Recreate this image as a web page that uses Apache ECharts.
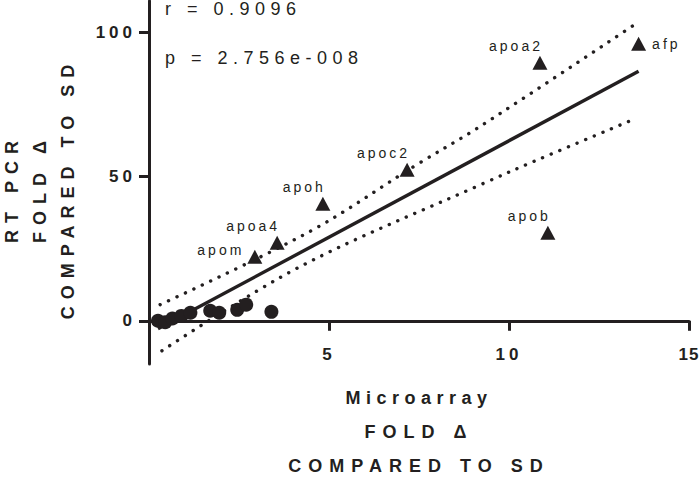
<!DOCTYPE html>
<html><head><meta charset="utf-8">
<script src="https://cdn.jsdelivr.net/npm/echarts@6/dist/echarts.min.js"></script>
<style>html,body{margin:0;padding:0;background:#fff}#c{width:700px;height:477px}</style>
</head><body><div id="c"></div>
<script>
// ---- data ----
const geneNames = ['afp', 'apoa2', 'apob', 'apoc2', 'apoh', 'apoa4', 'apom'];
const geneMicro = [13.6, 10.86, 11.08, 7.17, 4.83, 3.56, 2.94];
const geneRT    = [96.2, 89.6, 30.6, 52.4, 40.6, 27.1, 22.2];

const otherMicro = [0.25, 0.45, 0.65, 0.9, 1.15, 1.7, 1.95, 2.45, 2.7, 3.4];
const otherRT    = [0.0, -0.5, 0.8, 1.7, 2.8, 3.5, 2.8, 3.8, 5.6, 3.1];

const fitX = [0.25, 13.6];
const fitY = [-2.8, 86.6];

const upperX = [0.31, 4.47, 7.44, 9.19, 13.44];
const upperY = [5.6, 31.0, 54.2, 67.4, 102.4];
const lowerX = [0.36, 4.19, 9.33, 10.67, 13.5];
const lowerY = [-10.4, 18.75, 47.9, 55.2, 70.1];

const xTicks = [5, 10, 15];
const yTicks = [0, 50, 100];
const statR = 'r = 0.9096';
const statP = 'p = 2.756e-008';

// ---- styling ----
const ink = '#231f20';
const FF = 'Liberation Sans';
const X_MIN = 0, X_MAX = 15, Y_MIN = -15, Y_MAX = 111;
const GRID = {left: 149, right: 11, top: 1, bottom: 113};
const gridH = 477 - GRID.top - GRID.bottom;
// x axis sits on y = 0 (moved up from the grid bottom)
const xAxisOffset = -gridH * (0 - Y_MIN) / (Y_MAX - Y_MIN);

const labelPlace = {
  afp:  {position: 'right', distance: 6, align: 'left', offset: [0, 0]},
  apom: {position: 'left', distance: 3, align: 'right', offset: [0, -7]}
};
const defaultPlace = {position: 'top', distance: 3, align: 'right', offset: [3, 0]};

const pairs = (xs, ys) => xs.map((x, i) => [x, ys[i]]);

const geneData = geneNames.map((n, i) => {
  const p = labelPlace[n] || defaultPlace;
  return {name: n, value: [geneMicro[i], geneRT[i]],
    label: {position: p.position, distance: p.distance, align: p.align, offset: p.offset}};
});

const dotted = {color: ink, width: 3.4, type: [0.1, 9.2], cap: 'round'};

const chart = echarts.init(document.getElementById('c'), null, {renderer: 'svg'});
chart.setOption({
  animation: false,
  grid: Object.assign({containLabel: false, outerBoundsMode: 'none'}, GRID),
  xAxis: {
    type: 'value', min: X_MIN, max: X_MAX, offset: xAxisOffset,
    axisLine: {onZero: false, lineStyle: {color: ink, width: 3}},
    axisTick: {show: true, length: 10, customValues: xTicks, lineStyle: {color: ink, width: 3}},
    axisLabel: {customValues: xTicks, color: ink, fontSize: 17, fontWeight: 'bold', fontFamily: FF, margin: 25},
    splitLine: {show: false},
    name: 'Microarray\nFOLD Δ\nCOMPARED TO SD',
    nameLocation: 'middle', nameGap: 60,
    nameTextStyle: {color: ink, fontSize: 18, fontWeight: 'bold', fontFamily: FF, lineHeight: 34}
  },
  yAxis: {
    type: 'value', min: Y_MIN, max: Y_MAX,
    axisLine: {show: true, onZero: false, lineStyle: {color: ink, width: 3}},
    axisTick: {show: true, length: 10, customValues: yTicks, lineStyle: {color: ink, width: 3}},
    axisLabel: {customValues: yTicks, color: ink, fontSize: 17, fontWeight: 'bold', fontFamily: FF, margin: 13},
    splitLine: {show: false},
    name: 'RT PCR\nFOLD Δ\nCOMPARED TO SD',
    nameLocation: 'middle', nameRotate: 90, nameGap: 67,
    nameTextStyle: {color: ink, fontSize: 18, fontWeight: 'bold', fontFamily: FF, lineHeight: 28,
      padding: [0, 12, 0, 0]}
  },
  graphic: [
    {type: 'text', left: 165, top: 0, style: {text: statR, fill: ink, font: '18px "Liberation Sans"'}},
    {type: 'text', left: 165, top: 49, style: {text: statP, fill: ink, font: '18px "Liberation Sans"'}}
  ],
  series: [
    {type: 'line', data: pairs(upperX, upperY), smooth: 0.35, showSymbol: false, lineStyle: dotted, silent: true, z: 1},
    {type: 'line', data: pairs(lowerX, lowerY), smooth: 0.35, showSymbol: false, lineStyle: dotted, silent: true, z: 1},
    {type: 'line', data: pairs(fitX, fitY), showSymbol: false, lineStyle: {color: ink, width: 3.4}, silent: true, z: 2},
    {type: 'scatter', data: pairs(otherMicro, otherRT), symbol: 'circle', symbolSize: 14,
      itemStyle: {color: ink, opacity: 1}, z: 3},
    {type: 'scatter', data: geneData, symbol: 'triangle', symbolSize: [15, 14],
      itemStyle: {color: ink, opacity: 1}, z: 3,
      label: {show: true, formatter: '{b}', color: ink, opacity: 1, fontSize: 14, fontFamily: FF}}
  ]
});

// letter spacing like the reference's widely tracked type
function spacingFor(t) {
  const fs = getComputedStyle(t).fontSize;
  const txt = (t.textContent || '').trim();
  if (fs === '14px') return '3px';
  if (fs === '17px') return txt === String(xTicks[xTicks.length - 1]) ? '1px' : '4px';
  if (fs === '18px') {
    if (/^[A-ZΔ ]+$/.test(txt)) return '7px';
    return '5.5px';
  }
  return null;
}
function applySpacing() {
  document.querySelectorAll('#c text').forEach(t => {
    const ls = spacingFor(t);
    if (ls) t.setAttribute('letter-spacing', ls);
  });
}
applySpacing();
chart.on('finished', applySpacing);
setTimeout(applySpacing, 50);
</script></body></html>
